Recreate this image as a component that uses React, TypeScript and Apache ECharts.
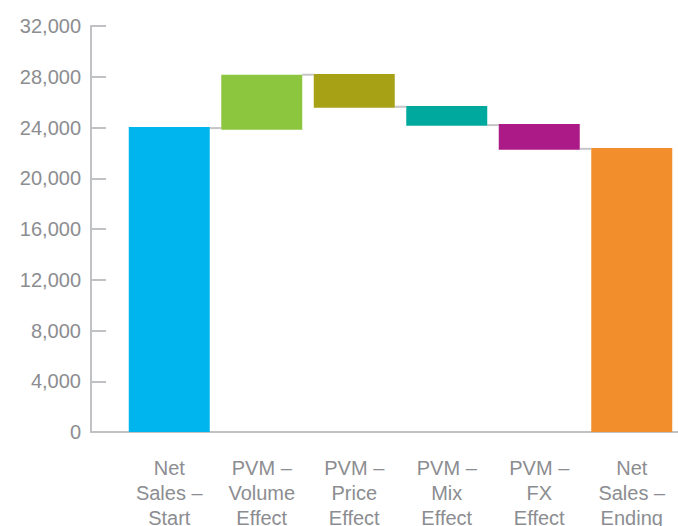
import React, { useEffect, useRef } from "react";
import * as echarts from "echarts";

// Waterfall steps: each bar spans [low, high]
const categories = [
  "Net\nSales –\nStart",
  "PVM –\nVolume\nEffect",
  "PVM –\nPrice\nEffect",
  "PVM –\nMix\nEffect",
  "PVM –\nFX\nEffect",
  "Net\nSales –\nEnding",
];
const barLows = [0, 23820, 25560, 24140, 22240, 0];
const barHighs = [24030, 28150, 28210, 25690, 24270, 22380];
const barColors = ["#00b4ee", "#8cc63f", "#a6a115", "#00a99e", "#ac1a87", "#f28e2b"];
// Levels of the bridge lines joining neighbouring bars
const bridgeLevels = [23955, 28160, 25635, 24190, 22320];

const yMin = 0;
const yMax = 32000;
const yStep = 4000;

const FONT = "'Liberation Sans', Arial, Helvetica, sans-serif";
const AXIS_GRAY = "#c0c1c5";
const TEXT_GRAY = "#8c8d91";
const BAR_WIDTH = 81;

export default function App() {
  const ref = useRef<HTMLDivElement>(null);

  useEffect(() => {
    if (!ref.current) return;
    const chart = echarts.init(ref.current, null, { renderer: "svg" });

    const option: any = {
      animation: false,
      backgroundColor: "#ffffff",
      grid: [
        { left: 91, right: 0, top: 26, bottom: 94, containLabel: false, outerBoundsMode: "none" },
        { left: 123, right: 0, top: 26, bottom: 94, containLabel: false, outerBoundsMode: "none" },
      ],
      xAxis: [
        {
          type: "value",
          gridIndex: 0,
          min: 0,
          max: 1,
          axisLine: { show: true, onZero: false, lineStyle: { color: AXIS_GRAY, width: 2 } },
          axisTick: { show: false },
          axisLabel: { show: false },
          splitLine: { show: false },
        },
        {
          type: "category",
          gridIndex: 1,
          data: categories,
          axisLine: { show: false },
          axisTick: { show: false },
          splitLine: { show: false },
          axisLabel: {
            interval: 0,
            margin: 23,
            color: TEXT_GRAY,
            fontFamily: FONT,
            fontSize: 20,
            lineHeight: 25,
            align: "center",
          },
        },
      ],
      yAxis: [
        {
          type: "value",
          gridIndex: 0,
          min: yMin,
          max: yMax,
          interval: yStep,
          axisLine: { show: true, lineStyle: { color: AXIS_GRAY, width: 2 } },
          axisTick: { show: true, inside: true, length: 15, lineStyle: { color: AXIS_GRAY, width: 2 } },
          splitLine: { show: false },
          axisLabel: {
            margin: 10,
            color: TEXT_GRAY,
            fontFamily: FONT,
            fontSize: 20,
            formatter: (v: number) => v.toLocaleString("en-US"),
          },
        },
        {
          type: "value",
          gridIndex: 1,
          min: yMin,
          max: yMax,
          interval: yStep,
          show: false,
          splitLine: { show: false },
        },
      ],
      series: [
        {
          type: "custom",
          xAxisIndex: 1,
          yAxisIndex: 1,
          z: 1,
          silent: true,
          data: bridgeLevels.map((v, i) => [i, v]),
          renderItem: (params: any, api: any) => {
            const i = api.value(0);
            const level = api.value(1);
            const a = api.coord([i, level]);
            const b = api.coord([i + 1, level]);
            return {
              type: "line",
              shape: { x1: a[0] + BAR_WIDTH / 2, y1: a[1], x2: b[0] - BAR_WIDTH / 2, y2: b[1] },
              style: { stroke: "#c6c6c8", lineWidth: 2 },
            };
          },
        },
        {
          type: "custom",
          xAxisIndex: 1,
          yAxisIndex: 1,
          z: 2,
          data: barLows.map((lo, i) => [i, lo, barHighs[i]]),
          encode: { x: 0, y: [1, 2] },
          renderItem: (params: any, api: any) => {
            const i = api.value(0);
            const top = api.coord([i, api.value(2)]);
            const bottom = api.coord([i, api.value(1)]);
            return {
              type: "rect",
              shape: {
                x: top[0] - BAR_WIDTH / 2,
                y: top[1],
                width: BAR_WIDTH,
                height: bottom[1] - top[1],
              },
              style: { fill: barColors[i] },
            };
          },
        },
      ],
    };

    chart.setOption(option);
    return () => chart.dispose();
  }, []);

  return (
    <div
      ref={ref}
      style={{ position: "fixed", left: 0, top: 0, width: 678, height: 526, background: "#fff" }}
    />
  );
}
